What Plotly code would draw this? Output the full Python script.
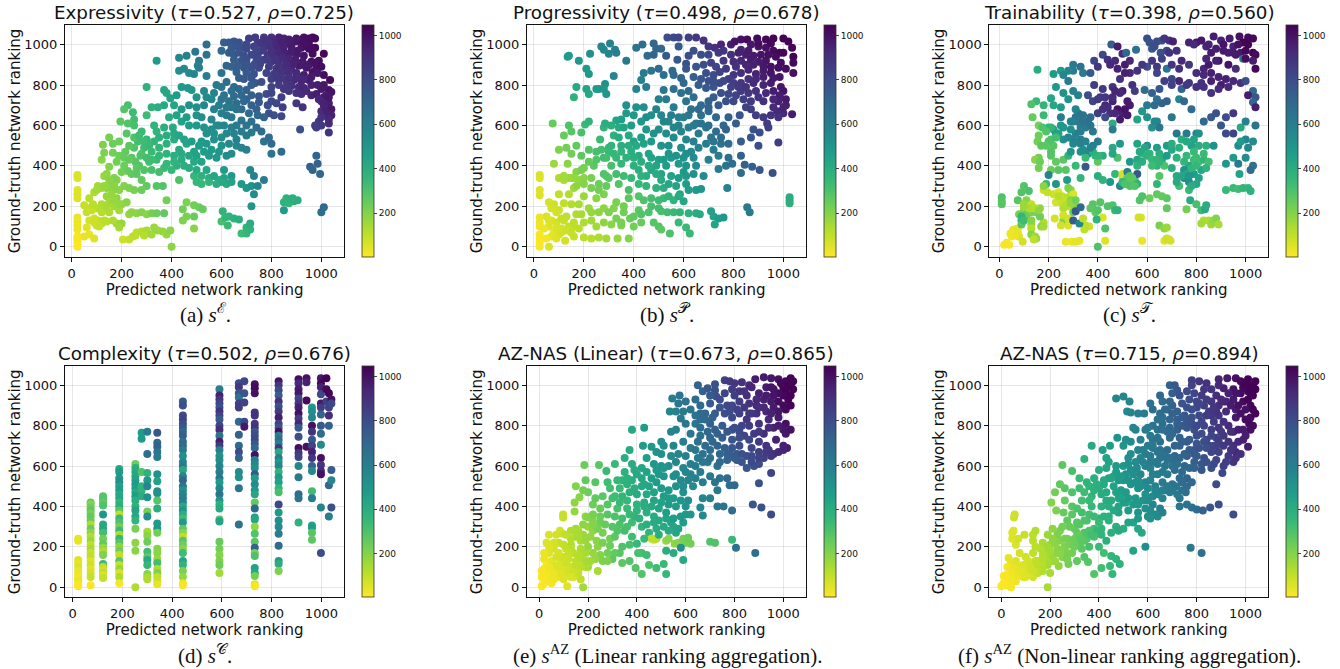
import plotly.graph_objects as go

W, H = 1340, 669

# ---------- (x, y, colour) ----------
a_pts = [
(710,1030,850),(735,1035,860),(770,1035,870),(800,1035,900),(830,1035,950),(850,1030,950),(930,1035,1000),(965,1035,1020),(975,1030,1020),
(610,1010,740),(630,1010,750),(650,1015,770),(670,1010,780),(745,1005,860),(760,1010,880),(780,1020,900),(810,1020,930),(860,1010,960),(885,1015,970),(900,1015,980),(920,1020,1000),(950,1010,1010),
(680,985,790),(700,980,810),(730,990,840),(770,985,870),(795,990,900),(825,985,930),(850,990,950),(880,990,970),(920,985,990),(950,980,1010),(975,985,1020),
(630,960,750),(650,950,750),(670,960,770),(690,945,790),(720,950,810),(745,945,830),(785,950,870),(810,945,900),(840,955,930),(870,955,950),(900,950,970),(930,945,990),(965,955,1010),(1010,955,1030),
(650,925,740),(680,920,770),(700,925,790),(740,920,820),(770,925,850),(800,915,880),(830,910,900),(860,920,930),(895,925,960),(925,915,980),(960,915,1000),(990,920,1010),
(620,895,710),(640,890,720),(690,885,760),(720,885,790),(750,885,810),(790,890,860),(820,880,880),(850,885,910),(880,880,930),(910,895,960),(940,885,980),(980,890,1000),(1000,890,1010),
(660,865,720),(700,860,750),(730,855,780),(780,860,830),(810,855,860),(840,860,890),(870,860,910),(900,860,930),(930,850,960),(965,865,990),
(620,815,680),(670,835,730),(690,830,750),(720,835,770),(735,810,760),(760,815,790),(800,830,850),(830,825,870),(860,820,890),(890,825,920),(920,820,940),(950,825,970),(1010,850,1010),(1035,825,1020),
(600,790,640),(650,790,690),(670,780,700),(700,775,720),(720,800,740),(800,790,830),(830,800,860),(850,780,870),(880,795,900),(910,790,920),(930,785,940),(1000,780,970),(1030,775,990),(1040,765,990),
(610,750,650),(640,770,670),(680,750,700),(750,745,760),(780,755,800),(800,760,820),(840,740,850),(920,755,910),(960,750,950),(980,755,960),(1010,740,970),
(600,730,640),(630,720,650),(660,710,670),(700,730,720),(720,700,720),(750,715,750),(785,700,790),(800,720,810),(820,710,830),(845,690,850),(900,710,880),(925,690,900),(1000,720,940),(1030,710,960),
(680,680,690),(710,660,690),(740,680,730),(790,660,780),(810,650,790),(840,645,810),(1000,670,920),(1020,680,950),(1040,680,980),(1040,650,950),(1010,650,920),(990,620,880),
(1030,565,890),(1030,610,920),(915,580,790),(980,590,850),(1000,600,870),
(340,920,480),(300,790,380),(430,935,560),(460,945,590),(495,965,640),(540,1000,670),(540,950,640),(600,970,690),(510,920,610),(505,895,590),(430,870,530),(450,880,550),(470,860,550),(490,855,560),(510,885,590),(540,845,610),(600,860,650),(440,790,490),(465,785,500),(480,775,500),(500,740,510),(530,770,550),(540,740,550),(570,760,580),(580,800,620),(560,730,560),(370,775,430),(380,760,430),(395,735,440),(420,750,470),(410,700,440),(370,700,420),(345,690,400),(320,690,380),(300,650,330),(225,700,310),(210,680,290),(245,665,330),(250,630,320),(195,620,270),(225,610,290),(250,600,310),(330,600,370),(340,570,370),(370,590,390),(405,590,410),(440,620,450),(460,640,480),(500,650,510),(520,640,530),(560,630,550),(600,660,590),(620,650,610),(640,640,620),(680,625,640),(700,600,640),(720,620,660),(745,650,700),(770,640,720),(720,565,620),(740,590,680),(760,570,680),(770,520,650),(790,540,680),(800,510,690),(800,460,640),(840,470,680),(980,450,710),(955,395,720),(965,380,710),(985,410,720),(995,360,700),
(150,540,220),(125,505,210),(165,510,240),(190,520,240),(120,430,190),(130,465,210),(165,465,230),(190,450,240),(215,470,260),(240,440,280),(150,395,200),(180,420,230),(210,400,240),(225,375,250),(255,420,280),(275,450,300),(265,520,320),(280,570,340),(300,530,350),(250,540,300),(220,560,280),(290,490,330),(320,470,340),(350,490,360),(380,510,380),(410,530,400),(430,480,410),(460,510,430),(490,470,450),(520,520,480),(540,560,520),(570,530,520),(590,600,550),(600,500,510),(620,560,560),(650,560,580),(660,530,590),(680,490,580),(700,480,590),(640,460,540),(620,450,540),(580,440,490),(550,450,470),(520,420,440),(490,420,420),(450,400,390),(420,400,380),(400,380,350),(370,390,340),(340,430,340),(310,420,320),(290,380,290),(270,400,290),(320,380,310),(350,370,320),(280,330,260),(300,300,260),(340,300,280),(365,300,290),(240,360,260),(260,360,270),(180,330,200),(160,310,190),(140,290,180),(140,360,190),(130,350,170),
(430,330,300),(490,350,350),(520,350,380),(550,340,390),(500,320,350),(520,310,350),(550,320,360),(590,330,390),(620,310,420),(640,350,490),(640,320,440),(610,380,480),(680,310,490),(700,290,490),(720,300,510),(715,380,570),(730,350,590),(745,300,570),(770,330,610),(730,260,540),(720,200,500),
(850,220,370),(860,240,380),(875,235,380),(890,225,390),(905,230,400),(870,215,370),(885,240,390),(850,180,470),(1000,170,670),(1010,195,680),
(460,220,210),(490,205,230),(510,195,240),(525,185,250),(445,185,230),(460,150,220),(445,130,210),(490,150,250),(490,90,190),(600,125,310),(605,175,370),(615,145,360),(630,150,370),(650,140,380),(670,135,390),(680,65,330),(700,95,360),(700,65,350),(715,85,370),(715,115,400),(625,105,340),
(380,230,230),(230,160,170),(240,170,180),(260,165,190),(280,170,200),(300,160,190),(320,165,220),(340,165,240),(370,165,260),
(205,35,80),(230,35,90),(245,50,100),(260,70,110),(280,75,120),(290,60,130),(300,80,140),(320,60,150),(330,95,160),(345,80,160),(365,75,170),(380,60,170),(395,80,190),(400,0,190),(290,55,120),(255,55,110),
(23,355,60),(23,340,60),(23,280,50),(23,260,50),(23,240,50),(23,145,30),(23,125,30),(23,105,30),(23,85,25),(23,50,15),(23,30,10),(23,15,5),(23,0,5),(23,40,10),
(50,205,90),(70,240,110),(90,270,130),(105,300,150),(120,290,150),(140,250,170),(165,280,180),(180,240,180),(200,210,180),(220,220,190),(120,210,130),(100,190,120),(80,180,100),(60,170,90),(130,180,130),(150,170,130),(170,200,150),(190,180,150),(105,130,90),(90,140,80),(120,115,100),(140,125,110),(70,130,70),(60,95,50),(70,60,40),(90,40,50),(50,50,35),(100,105,80),(180,115,160),(200,115,170),(190,95,150),(165,130,130),
(790,1010,890),(820,1005,930),(840,1015,950),(870,1025,960),(900,1030,980),(950,1030,1010),(940,1000,1000),(960,985,1010),(905,970,980),(880,965,960),(850,965,950),(825,960,930),(800,970,900),(760,970,860),(740,970,830),(700,1000,810),(660,990,770),(640,980,750),(870,930,940),(845,935,920),(815,930,890),(785,925,860),(755,905,830),(730,900,800),(700,900,770),(665,895,740),(830,890,890),(860,900,920),(890,905,950),(920,900,970),(950,900,980),(975,910,1000),(985,860,980),(960,840,970),(930,830,940),(900,835,920),(870,840,900),(840,835,880),(820,840,870),(960,800,950),(985,800,960),(1010,800,980),(1020,750,970),(1030,740,980),(990,730,940),(1010,700,950),(1025,660,950),(1000,640,900),(1030,630,930),(975,600,860),(860,790,880),(900,760,900),(940,770,930),(870,770,880),
(650,745,680),(690,720,700),(720,750,730),(660,680,660),(640,690,640),(620,690,620),(590,700,610),(570,680,590),(530,700,560),(500,690,530),(470,700,510),(440,680,480),(420,650,450),(390,640,420),(470,600,470),(500,600,490),(530,590,510),(560,580,530),(580,600,550),(610,600,570),(640,590,590),(660,600,610),(680,570,610),(700,550,620),(660,500,560),(630,510,550),(600,540,540),(570,560,520),(540,510,490),(510,500,470),(480,520,460),(450,530,440),(430,550,430),(410,560,420),(380,550,400),(350,540,380),(330,520,360),(310,500,340),(290,520,330),(270,550,330),(280,460,300),(250,490,290),(230,500,270),(210,440,250),(230,430,260),(260,390,270),(300,440,320),(320,430,330),(350,450,350),(380,460,370),(410,450,390),(440,460,410),(470,450,430),(500,450,450),(530,470,470),(560,480,490),(590,470,500),(380,410,350),(410,420,370),(440,430,400),(470,390,400),(500,380,410),(540,380,420),(570,350,430),(610,340,440),(600,320,420),(580,310,400),(100,280,150),(170,300,190),(190,280,190),(210,300,200),(230,290,210),(250,280,220),(280,280,240),(150,220,150),(170,230,170),(190,210,170),(140,200,140),(120,170,120),(90,120,80),(110,100,90),(130,130,110),(70,190,90),(85,210,110),(130,300,170),(160,260,170),(200,370,230),(170,340,210),(150,330,190),
]

b_pts = [
(535,1035,790),(560,1035,810),(580,1035,830),(620,1035,850),(650,1035,880),(680,1020,890),(700,990,880),(725,985,900),(750,1000,930),(790,1000,960),(805,1015,990),(830,1025,1000),(855,1025,1020),(895,1030,1030),(930,1025,1030),(960,1030,1040),(1000,1030,1040),(1020,1015,1040),
(270,990,560),(280,975,560),(305,1005,590),(325,975,590),(300,955,580),(330,960,600),(410,985,650),(435,1000,670),(480,1005,700),(490,980,700),(510,980,700),(580,990,760),(640,970,790),(670,950,800),(700,950,810),(740,960,870),(760,970,880),(790,950,900),(830,975,940),(870,1000,980),(900,990,990),(930,985,1000),(960,970,1020),(985,960,1030),(1035,985,1030),(1040,940,1040),
(135,940,470),(140,945,480),(225,955,530),(180,920,490),(210,880,480),(220,855,490),(370,920,620),(320,845,560),(285,805,520),(250,780,480),(260,780,490),(280,780,500),(290,755,500),(220,755,430),(210,780,440),(170,790,420),(160,740,380),
(455,945,680),(480,950,710),(530,945,750),(575,925,770),(610,905,780),(620,945,800),(650,890,770),(680,900,790),(710,910,840),(730,890,830),(760,920,880),(800,915,910),(830,920,930),(870,925,960),(900,915,970),(930,920,990),(990,910,1010),(1040,910,1020),(1040,860,1000),
(440,860,620),(470,870,640),(500,880,680),(520,850,670),(555,870,700),(560,850,690),(590,835,710),(610,880,760),(640,840,730),(690,860,790),(720,850,800),(745,865,840),(770,880,870),(800,850,880),(830,860,910),(860,875,940),(890,855,950),(920,870,970),(950,860,990),(985,840,990),
(430,825,590),(450,790,600),(520,775,630),(560,780,660),(600,810,700),(620,770,690),(660,800,740),(690,785,750),(720,790,770),(700,820,780),(745,810,810),(780,830,850),(800,810,860),(830,810,880),(860,830,900),(890,830,930),(920,800,940),(950,810,960),(990,790,980),(1000,770,990),
(410,780,570),(500,730,590),(530,730,610),(560,690,600),(590,760,660),(610,720,650),(640,740,680),(670,700,680),(700,720,720),(720,740,740),(750,760,790),(780,755,810),(810,750,840),(830,770,860),(870,720,870),(900,740,890),(930,760,920),(980,720,950),(1010,730,970),(960,690,920),(975,670,920),(1000,660,930),(1035,655,960),(850,690,840),(870,680,850),(890,650,850),(920,640,870),(950,650,890),(980,640,900),(935,610,860),(940,590,850),
(370,700,520),(410,690,520),(400,650,490),(370,660,480),(350,630,460),(330,625,450),(440,690,540),(450,640,540),(490,680,580),(520,620,570),(550,650,600),(580,600,590),(620,650,640),(650,610,640),(670,650,660),(700,670,700),(730,640,700),(760,600,690),(780,640,730),(810,610,740),(825,650,770),(880,580,780),
(75,610,250),(140,600,300),(205,605,340),(220,620,370),(280,590,360),(310,600,390),(285,610,400),(320,550,380),(340,590,410),(120,550,250),(150,570,280),(190,565,310),(265,530,340),(300,490,350),(350,500,400),(380,550,420),(400,520,440),(430,540,470),(450,580,500),(480,560,510),(510,500,510),(540,500,530),(560,540,550),(590,490,540),(610,530,570),(640,520,590),(660,560,610),(690,590,650),(710,540,640),(720,480,610),(750,510,650),(740,450,610),(780,510,680),(780,440,670),(830,450,730),(830,520,740),(870,540,770),(900,500,800),(980,515,860),(905,565,800),
(100,480,210),(130,490,230),(170,500,260),(150,460,230),(220,480,290),(190,450,270),(250,470,310),(280,440,330),(300,470,340),(330,440,350),(370,440,380),(390,470,400),(420,450,420),(460,460,440),(470,440,450),(500,430,460),(550,440,480),(580,410,490),(610,460,530),(640,440,550),(650,400,550),(700,430,590),
(80,410,160),(135,410,190),(170,370,200),(200,390,230),(240,400,270),(280,360,290),(310,400,310),(350,410,350),(400,400,380),(420,380,390),(450,350,400),(510,360,440),(530,400,470),(600,370,490),(610,400,510),(680,350,550),(740,385,620),(770,400,650),(795,410,680),(775,290,580),(830,365,680),(845,405,720),(875,395,740),(905,380,770),(957,365,790),
(100,340,130),(120,330,140),(150,340,160),(180,330,170),(200,340,190),(230,340,220),(260,310,240),(290,300,250),(300,340,280),(340,310,290),(380,280,310),(420,310,350),(450,300,360),(490,290,380),(510,330,410),(520,290,400),(540,310,430),(570,300,440),(610,310,470),(620,280,470),(650,280,490),(670,285,500),(585,260,430),(600,225,430),
(100,260,100),(140,260,120),(160,290,150),(200,250,160),(250,240,190),(280,260,210),(330,220,220),(380,240,270),(420,250,290),(440,230,300),(470,240,320),(500,230,330),(470,200,310),
(60,220,70),(80,210,80),(120,215,100),(150,210,120),(180,210,140),(220,190,160),(280,190,180),(320,190,200),(360,200,230),(360,170,230),(420,180,270),(460,170,300),(100,180,80),(120,130,90),(510,175,310),(535,170,330),(560,170,340),(585,170,360),(620,165,380),(650,165,400),(665,160,410),(710,175,450),(720,150,450),(740,140,470),(760,145,490),(725,110,440),(610,95,340),(625,65,340),(545,65,300),(580,120,340),
(50,150,60),(70,130,60),(90,120,70),(110,90,70),(140,100,90),(160,100,100),(200,120,130),(230,130,150),(250,100,150),(280,120,180),(310,110,190),(350,105,210),(385,140,240),(400,100,230),(430,120,250),(480,120,280),(500,100,290),(510,85,270),
(60,100,50),(80,70,40),(100,60,60),(125,30,70),(160,50,90),(200,45,110),(230,40,120),(260,45,130),(290,40,150),(335,40,170),(380,40,200),(60,0,60),
(23,355,60),(23,340,60),(23,280,50),(23,255,50),(23,145,30),(23,120,30),(23,100,25),(23,60,15),(23,40,10),(23,20,5),(23,0,5),
(1025,245,400),(1025,230,400),(1025,215,390),(855,195,620),(865,170,620),
(820,960,950),(850,950,960),(880,945,970),(910,950,990),(940,950,1000),(970,940,1010),(1000,960,1030),(950,1005,1030),(900,1005,1010),(860,970,970),(810,890,900),(850,900,940),(880,900,950),(920,895,980),(950,890,1000),(980,885,1010),(1010,880,1010),(960,835,980),(920,840,960),(880,810,920),(850,790,890),(820,790,870),(790,790,840),(760,820,820),(720,820,790),(670,830,760),(960,770,960),(985,750,960),(1010,700,960),(1000,690,950),(960,730,940),(920,720,900),(890,770,900),(860,760,880),(840,730,850),(800,720,820),(770,720,790),(740,700,750),(700,690,710),(660,680,690),(630,680,660),(600,640,620),(580,640,600),(540,620,570),(510,650,560),(470,650,530),(430,620,500),(390,600,470),(360,590,440),(340,540,410),(310,500,370),(270,480,320),(250,430,290),(220,420,260),(190,380,220),(160,340,170),(140,340,160),(120,350,150),(200,310,200),(170,300,180),(230,290,220),(260,280,230),(290,350,290),(330,360,320),(360,350,330),(390,340,350),(430,350,380),(470,380,420),(490,400,440),(520,430,470),(540,460,500),(570,450,510),(600,440,520),(630,470,550),(660,490,580),(690,510,610),(720,520,640),(750,540,680),(770,580,720),(730,570,680),(700,600,670),(670,610,650),(640,600,620),(620,590,600),(590,570,570),(560,590,570),(530,560,540),(500,580,530),(470,520,480),(440,510,450),(410,500,420),(380,500,400),(350,470,370),(320,460,350),(290,440,320),(400,440,390),(430,420,400),(460,400,410),(490,360,410),(550,350,450),(580,340,470),(610,350,490),(640,360,520),(70,190,70),(90,170,70),(110,140,90),(130,150,100),(160,120,110),(180,90,110),(90,90,60),(60,130,50),(40,90,30),(70,50,40),(50,40,20),(90,40,50),(110,70,70),(130,80,80),(150,70,90),(170,160,130),(190,160,140),(230,170,170),(260,170,180),(300,170,210),(330,140,220),(350,120,220),(400,150,260),(430,160,290),(500,190,320),(520,240,340),(540,250,370),(560,230,370),(580,250,410),
]

c_pts = [
(600,1030,800),(610,1010,780),(640,1015,800),(660,1020,790),(670,1030,880),(690,1020,900),(705,1015,950),(770,1010,950),(800,1010,980),(820,1020,980),(870,1040,960),(900,1020,950),(910,1000,990),(935,1030,960),(975,1040,1000),(1010,1035,1020),(1030,1030,1030),(990,1010,1040),(1010,1000,1040),(1030,960,1040),(1040,950,1020),(1040,880,1030),(1030,920,960),
(455,1000,740),(480,990,960),(500,955,920),(515,960,700),(555,975,660),(620,980,760),(630,990,800),(655,960,780),(680,970,820),(690,960,900),(720,970,900),(790,1000,920),(840,990,940),(850,1000,950),(880,980,960),(910,970,970),(950,990,950),(980,960,980),
(420,950,820),(385,920,830),(400,890,880),(440,925,900),(450,900,930),(480,880,950),(510,900,960),(530,920,930),(560,870,900),(600,890,800),(620,920,880),(640,890,870),(660,930,840),(680,880,640),(640,860,830),(700,900,880),(730,880,900),(740,920,930),(770,900,880),(800,860,920),(830,880,940),(850,900,980),(890,920,1000),(930,900,990),(960,880,910),(990,930,650),
(300,900,620),(330,890,660),(340,860,620),(300,870,600),(280,870,560),(250,870,470),(220,855,470),(260,850,570),(155,875,400),(370,860,750),(385,800,850),(420,780,870),(460,790,900),(500,770,960),(490,830,900),(540,800,900),(550,770,860),(590,775,680),(620,760,720),(650,780,760),(670,820,850),(700,830,830),(730,820,940),(770,810,880),(820,810,900),(860,820,950),(900,800,960),(930,790,920),(980,810,900),(1000,820,800),(1030,770,680),(1010,750,960),(1040,740,770),(1030,715,700),(1040,690,960),
(280,820,620),(230,790,490),(260,760,510),(300,770,580),(320,750,590),(210,735,430),(220,700,430),(250,690,470),(280,730,510),(310,680,560),(360,750,790),(380,720,830),(410,740,870),(430,700,930),(460,720,950),(480,680,1000),(500,660,950),(530,700,960),(400,660,850),(450,660,910),(520,650,980),(490,630,970),(460,610,400),
(150,720,340),(130,705,300),(180,700,360),(135,640,250),(180,650,340),(250,640,600),(290,620,580),(320,660,590),(340,650,640),(360,620,640),(330,590,600),(380,570,630),(430,640,800),(460,580,600),
(560,630,450),(580,670,500),(600,700,620),(630,700,690),(660,710,720),(680,720,730),(600,640,510),(640,620,560),(700,640,640),(740,780,710),(730,730,570),(750,720,700),(780,680,680),(830,620,700),(860,640,750),(880,660,780),(920,640,800),(950,660,880),(900,600,760),(920,560,810),(950,560,830),
(980,590,420),(1000,620,580),(1040,600,650),(1000,530,560),(1030,520,540),(970,500,540),(980,520,480),(1010,490,560),(1000,440,540),(1030,400,650),(1020,380,690),(950,440,480),(920,410,500),(970,410,620),(975,360,450),(920,280,340),(950,290,340),(970,285,330),(990,290,360),(1010,290,360),(1020,275,380),
(160,600,220),(160,550,240),(155,520,230),(170,500,270),(200,590,360),(220,580,430),(250,600,500),(260,530,520),(200,520,290),(220,500,280),(230,420,260),(210,450,280),(160,440,230),(145,430,190),(165,420,240),(160,390,230),(210,380,250),(200,355,580),(190,310,350),(230,310,510),(240,380,280),(270,380,280),(260,430,270),(280,450,370),(290,470,500),(300,510,560),(330,530,600),(380,500,600),(360,460,550),(310,400,340),(330,470,520),(350,440,340),(390,450,370),(420,450,400),(400,420,270),(350,395,760),(275,330,480),(330,340,360),(400,350,400),(420,330,370),(450,320,500),(470,360,350),(490,300,560),(510,340,330),(530,320,270),(550,330,310),(500,360,60),(500,345,70),(520,370,600),(560,430,430),(580,460,350),(610,460,370),(640,400,370),(660,430,420),(560,360,760),(530,420,490),(480,440,300),(490,510,480),(460,490,420),(460,460,430),
(600,500,530),(620,590,520),(630,620,560),(650,590,640),(640,490,470),(680,500,470),(700,480,420),(720,560,640),(680,450,470),(650,460,400),(760,560,610),(800,560,560),(780,500,450),(810,500,400),(840,500,390),(870,500,520),(740,530,390),(760,450,350),(790,470,340),(810,420,310),(770,400,440),(750,380,510),(720,350,410),(750,340,550),(770,320,540),(790,360,470),(810,340,450),(780,390,360),(830,430,370),(820,380,430),(700,390,400),(670,400,300),(650,350,280),(640,310,360),(730,300,320),(770,280,340),(775,230,410),(800,210,310),(820,180,330),(760,185,230),(835,185,420),(840,205,400),(680,190,260),(610,240,240),(640,260,260),(660,250,260),(680,240,270),(570,230,290),(580,250,300),
(850,130,130),(830,130,130),(860,110,160),(870,130,170),(880,140,200),(890,110,140),(820,115,150),(650,105,220),(670,90,180),(680,95,160),(670,30,50),(680,40,80),(690,35,80),(695,30,70),(575,145,60),(565,145,70),(580,30,30),(400,0,300),(270,25,30),(295,25,30),(310,25,40),(325,30,40),(430,30,50),(420,145,60),(365,100,80),(350,105,100),(345,85,100),(390,170,260),
(380,210,280),(370,190,270),(400,180,290),(410,220,280),(440,200,290),(460,205,300),(470,180,360),(480,180,380),(430,90,300),(395,135,370),
(10,245,300),(10,225,290),(10,210,280),(20,10,10),(30,20,15),(40,10,15),(50,50,20),(55,80,40),(70,85,50),(60,70,30),(80,50,60),(95,25,70),(75,90,30),(100,300,290),(90,270,290),(120,275,300),(75,230,280),(110,230,200),(100,210,160),(130,210,100),(120,190,120),(100,180,170),(80,160,220),(90,130,390),(90,110,280),(110,160,250),(130,170,210),(150,170,220),(165,190,170),(180,120,130),(130,110,150),(130,90,120),(130,60,200),(145,50,150),(150,40,170),(140,35,100),(165,150,240),(170,100,180),(180,100,150),
(220,260,80),(240,270,60),(255,250,90),(280,245,120),(290,280,180),(280,290,210),(300,260,60),(180,280,80),(195,270,90),(230,220,70),(260,190,130),(280,200,100),(300,210,160),(300,170,240),(310,190,200),(225,140,70),(260,130,200),(260,155,70),(280,140,70),(280,105,60),(250,105,70),
(300,130,740),(310,175,760),(330,195,690),(325,115,570),(340,140,100),(180,300,190),
(330,650,650),(310,640,640),(300,620,590),(320,620,610),(350,590,600),(340,620,650),(370,640,680),(370,600,650),(330,570,600),(310,560,590),(300,530,580),(280,540,560),(330,510,590),(350,520,580),(440,690,910),(470,660,930),(460,740,910),(420,680,900),(430,740,880),(400,730,860),(510,680,990),(520,720,970),(490,760,920),(470,770,940),(530,860,930),(510,860,950),(580,900,880),(470,920,920),(950,960,960),(970,1000,1000),(1000,970,1030),(1000,930,1010),(960,950,970),(930,960,960),(880,920,950),(860,960,970),(840,930,940),(830,850,920),(860,860,950),(890,840,950),(920,830,950),(950,820,930),(890,780,920),(860,760,900),(830,790,900),(800,790,900),(760,800,870),(700,800,840),(640,730,660),(810,560,520),(790,530,440),(760,520,420),(730,490,390),(700,510,400),(720,440,380),(750,420,360),(790,430,330),(800,400,350),(760,360,430),(740,350,430),(770,350,500),(720,320,420),(800,310,430),(780,300,400),(830,460,340),(800,440,330),(850,420,320),(840,390,370),(530,350,280),(520,340,270),(540,340,270),(500,320,350),(560,310,380),(530,300,300),(510,310,300),(550,300,290),(560,510,440),(590,490,430),(570,470,420),(600,450,380),(620,430,350),(640,430,360),(560,400,370),(580,420,400),(620,400,330),(650,420,360),(400,450,360),(380,470,390),(340,480,540),(370,490,590),(400,520,600),(290,580,520),(260,590,500),(230,560,480),(210,590,360),(240,560,450),(175,590,300),(190,570,290),(210,530,300),(190,500,270),(230,540,320),(210,470,290),(60,85,40),(45,65,25),(65,55,30),(75,70,35),(120,190,120),(130,190,130),(145,190,120),(100,200,160),(110,150,240),(90,150,360),(100,130,330),(130,130,200),(160,180,180),(250,220,80),(270,230,100),(260,220,90),(240,250,110),(270,205,120),(290,230,190),(290,215,170),(310,230,230),
]

d_columns = [22,72,122,187,252,277,300,340,443,590,668,690,732,828,908,940,962,998,1020,1030,1040]
d_values = [
[240,230,135,120,100,80,65,50,40,30,15,5],
[420,410,395,380,365,350,330,310,290,270,250,230,210,190,170,150,130,110,90,70,50,10],
[450,435,420,405,360,310,290,270,240,215,195,175,160,115,100,85,70,60,45],
[585,570,540,520,500,480,460,440,420,400,380,360,340,320,300,280,260,240,220,200,180,160,130,110,90,70,50,20],
[610,590,570,550,530,510,490,470,450,430,400,380,350,330,290,220,180,0],
[765,735,570,500,480,450],
[770,660,565,530,500,445,375,350,275,255,225,175,150,135,110,65,50,40],
[765,715,695,670,645,560,525,475,465,430,390,315,290,270,190,170,140,120,90,70,50,30,15],
[920,900,850,830,810,790,770,750,720,700,680,650,620,600,580,550,530,500,480,460,440,420,400,380,360,340,320,290,270,250,230,210,190,170,130,110,80,50,20,10],
[980,950,930,910,890,870,850,830,800,780,750,720,700,680,650,630,600,570,540,520,490,460,430,410,390,335,325,225,190,160,130,110,70],
[1010,990,960,940,910,890,820,755,700,670,640,570,545,490,310],
[1020,960,915,820,795],
[1005,985,960,865,850,810,790,770,750,730,710,690,655,630,610,590,560,540,510,480,460,420,390,345,335,300,265,225,195,170,155,95,70,55,15,5],
[1020,1000,975,950,920,895,870,840,810,790,770,750,730,710,690,670,640,620,600,570,545,520,490,470,410,370,330,300,265,205,130,115,80],
[1030,1010,980,960,935,910,890,860,835,810,790,745,690,665,645,600,545,460,440,320],
[1035,1015,925,695],
[890,870,840,800,770,730,700,670,640,600,575,475,440,305,295,270,235],
[1035,1010,990,955,910,890,855,800,760,705,640,605,575,560,395,170],
[1035,980,920],
[960,890,850,800,505,350],
[930,910,580,530,395],
]
d_colours = [
[40,40,50,40,60,30,30,20,20,30,10,5],
[260,200,240,270,220,260,250,130,240,180,120,170,100,140,90,100,60,80,50,70,90,10],
[280,290,260,300,500,420,430,320,230,260,170,130,210,340,100,80,110,50,90],
[430,480,500,520,450,480,420,430,360,390,280,100,340,300,230,340,130,350,280,180,230,100,270,90,170,60,130,15],
[240,390,410,430,450,500,470,420,470,390,380,440,430,370,220,180,190,130],
[480,480,300,360,370,400],
[600,680,380,480,560,520,220,530,150,190,240,330,260,420,350,200,150,130],
[760,700,720,640,620,520,450,530,520,280,390,480,500,230,200,190,170,320,130,210,100,90,40],
[750,790,820,840,800,760,700,730,680,700,620,520,560,620,420,560,700,640,520,580,600,590,430,510,400,330,480,260,190,100,280,240,200,330,430,370,210,170,40,10],
[590,950,880,830,780,900,840,750,830,910,650,960,870,600,520,540,570,600,640,480,560,640,510,380,420,300,440,250,230,200,210,240,150],
[800,880,770,650,840,860,690,720,700,800,720,540,520,640,650],
[830,770,840,820,980],
[1000,1020,1000,890,900,870,900,760,800,820,760,700,1000,600,560,530,750,470,540,500,430,260,700,470,430,170,290,270,720,220,300,450,430,230,50,10],
[990,880,810,740,900,780,860,960,840,780,1000,600,680,590,870,420,610,490,560,370,480,450,350,310,820,480,530,550,600,690,470,400,210],
[1010,920,960,980,830,880,960,1000,860,940,750,790,1010,880,840,560,620,680,650,380],
[1000,950,1020,1000],
[480,530,560,1000,890,760,840,950,880,720,550,330,620,430,470,280,270],
[980,1030,950,820,980,860,710,750,680,550,1000,880,910,1000,570,800],
[1040,1020,850],
[1040,840,910,720,700,600],
[1000,820,740,560,790],
]

e_pts = [
(650,1000,720),(670,970,720),(690,985,760),(720,975,790),(725,945,790),(720,1005,780),(760,1025,850),(780,1020,870),(800,1010,880),(830,1015,900),(860,1000,930),(885,1030,960),(920,1040,970),(950,1035,980),(980,1030,1000),(1010,1020,1030),(1030,1035,1040),(1040,1020,1040),(1020,1000,1040),(1040,980,1040),(1010,970,1040),(1030,950,1040),(1000,950,1030),(980,960,1010),(960,980,1000),(930,990,970),(900,960,950),(870,990,940),(850,950,910),(820,970,880),(790,980,860),(760,960,830),(740,930,800),(700,910,750),(660,900,700),(640,930,680),(600,920,660),(570,910,640),(545,935,610),(575,950,640),(640,850,650),(590,870,620),(560,870,590),(535,870,570),(580,835,620),(600,810,630),(640,810,640),(660,830,670),(680,860,700),(720,860,730),(740,890,770),(790,900,820),(820,920,860),(860,910,900),(890,900,920),(920,930,950),(950,920,970),(980,920,1010),(1000,900,1020),(960,890,970),(930,870,940),(890,860,900),(850,830,880),(820,860,850),(790,840,810),(760,860,790),(700,810,720),(720,780,720),(750,800,750),(790,780,780),(820,770,810),(860,800,860),(900,810,890),(940,830,930),(980,840,970),(1010,810,1000),(1000,780,980),(960,790,950),(920,760,910),(880,760,860),(840,750,830),(790,730,770),(750,740,730),(700,740,700),(660,750,660),(620,760,640),(560,780,590),(540,770,570),(500,720,530),(510,700,530),(460,695,500),(480,670,510),(430,790,470),(380,780,430),(425,700,470),(370,680,410),(350,640,390),(380,610,410),(310,610,340),(245,605,270),(185,605,240),
(500,660,520),(550,700,570),(590,720,600),(620,690,620),(650,720,660),(670,660,650),(700,680,670),(730,700,710),(760,690,730),(790,690,760),(820,700,800),(850,650,790),(870,690,830),(900,720,860),(930,700,890),(960,660,890),(980,670,920),(1015,690,960),(950,650,880),(920,640,850),(880,600,790),(900,610,800),(850,590,770),(810,630,760),(770,630,710),(730,600,660),(690,620,640),(650,640,620),(620,610,600),(590,590,570),(560,620,560),(530,600,530),(500,600,510),(470,610,490),(440,640,460),(420,590,430),(390,580,410),(350,570,380),(340,530,370),(380,530,400),(420,540,430),(450,500,440),(480,520,470),(510,550,500),(550,550,530),(580,530,550),(620,560,580),(660,570,610),(700,550,630),(740,540,660),(950,565,830),(900,515,780),(800,505,700),(780,505,690),(730,480,630),(700,440,590),(670,440,570),(630,500,550),(590,470,510),(550,440,470),(510,450,460),(470,430,440),(430,420,400),(400,460,410),(370,470,390),(340,450,360),(300,440,320),(280,520,330),(275,575,340),(230,520,280),(190,530,260),(200,470,240),(150,500,200),(180,480,230),(165,445,190),(145,420,180),(145,375,170),(190,350,180),(220,410,240),(250,390,250),(280,410,280),(320,390,310),(360,390,340),(400,380,370),(440,370,400),(470,350,410),(520,340,440),(490,390,440),(530,410,480),(620,360,500),(600,360,480),(670,355,550),(660,395,560),(730,400,640),(755,400,650),(790,380,670),(875,410,760),(910,395,780),(950,360,800),
(300,300,280),(250,320,240),(220,330,200),(200,300,170),(150,290,150),(130,280,130),(180,260,160),(220,280,180),(260,270,220),(290,240,230),(330,310,300),(380,320,330),(420,300,360),(450,270,370),(480,290,400),(510,300,420),(540,320,450),(570,290,450),(590,320,470),(560,270,430),
(460,240,100),(470,235,100),(480,240,110),(520,230,170),(530,240,190),(555,215,180),(570,220,200),(590,240,220),(600,220,230),(620,215,230),(610,245,240),(700,225,290),(720,220,300),(790,235,340),(580,195,520),(806,195,660),(885,170,670),
(520,180,400),(550,170,410),(590,135,420),(520,65,350),(510,115,340),(480,95,330),(450,110,300),(420,65,290),(395,95,290),(420,170,320),(440,160,330),(400,215,350),(405,170,310),(370,210,310),(340,200,300),(330,170,280),(300,140,270),(340,120,270),(370,130,290),(380,250,330),(350,280,320),(280,170,230),(250,160,200),(230,140,170),(200,100,150),(260,130,210),(240,80,140),
(190,100,130),(180,0,150),(150,250,130),(130,210,120),(100,210,100),(80,220,90),(30,220,60),(40,260,60),(70,260,70),(85,280,70),(95,265,80),(98,360,90),(98,345,90),(110,190,100),(130,190,110),(170,190,130),(190,170,140),(60,190,70),(40,170,50),(20,140,30),(30,110,15),(50,130,40),(70,150,70),(90,130,70),(120,140,90),(150,130,100),(170,100,110),(130,100,80),(100,100,60),(70,90,50),(50,80,30),(30,70,20),(10,50,10),(30,30,5),(10,5,5),(50,20,20),(80,50,40),(110,60,60),(140,50,70),(160,70,90),(170,40,100),(115,5,50),
(20,20,10),(40,40,20),(60,40,25),(70,60,35),(90,70,50),(100,40,50),(120,80,70),(140,80,80),(60,110,50),(80,110,60),(110,120,80),(140,170,110),(160,160,120),(170,140,120),(190,130,140),(210,130,150),(220,170,170),(240,200,190),(130,240,120),(160,280,140),(170,230,140),(190,230,160),(210,250,170),(235,230,190),(260,220,220),(200,200,170),(280,130,210),(310,170,260),(290,205,240),(310,250,270),(320,280,290),(270,310,250),(240,290,220),(200,345,200),(220,360,220),(250,350,240),(280,360,280),(310,350,300),(340,340,320),(370,360,340),(390,350,360),(410,340,380),(440,310,390),(470,320,410),(490,330,420),(520,370,460),(550,340,470),(580,350,490),(550,300,440),(530,280,420),(490,260,390),(360,300,310),(430,240,340),(310,450,330),(330,490,340),(360,510,380),(390,490,400),(420,500,420),(440,460,420),(470,470,450),(500,490,480),(530,480,490),(560,500,520),(590,500,540),(610,530,570),(640,540,590),(670,520,610),(720,520,650),(770,540,690),(360,540,380),(400,560,420),(440,570,450),(480,580,480),(510,590,500),(540,650,550),(570,660,570),(600,650,590),(640,680,630),(680,700,680),(710,720,700),(740,660,700),(780,660,740),(810,660,760),(830,620,770),(870,650,810),(900,670,850),(940,680,880),(1000,680,940),(1000,700,950),(970,730,950),(1010,760,980),(1030,780,1000),(980,800,960),(940,790,920),(900,770,870),(860,730,820),(820,740,800),(770,770,760),(730,760,720),(690,770,700),(660,790,670),(680,830,690),(710,840,720),(780,870,800),(810,880,840),(840,890,870),(870,860,880),(920,890,930),(950,860,950),(980,870,980),(1010,880,1020),(1030,900,1040),(1020,930,1040),(1000,990,1040),(1030,1000,1040),(990,1010,1030),(950,990,990),(960,950,990),(930,950,960),(890,930,930),(840,970,890),(800,950,850),(770,900,820),(700,950,750),(660,860,690),(620,880,650),
(330,420,340),(360,430,350),(400,410,380),(430,400,400),(460,400,420),(500,420,450),(530,440,470),(560,400,480),(580,430,500),(610,430,530),(600,400,510),(560,560,540),(600,570,570),(640,600,610),(670,620,630),(700,640,660),(740,620,690),(770,660,730),(800,640,740),(830,660,780),(870,620,810),(900,640,840),(930,670,870),(800,790,800),(830,800,830),(860,860,870),(900,890,910),(430,510,430),(460,540,460),(490,560,490),(320,530,350),(290,490,320),(260,450,270),(230,440,260),(220,310,200),(180,310,180),(160,250,140),(110,260,100),(60,220,70),(40,200,50),(20,170,30),(20,90,15),(40,100,25),(10,80,10),(60,60,30),(130,50,60),(150,110,100),(100,150,80),(80,170,70),(120,170,90),
]

f_pts = [
(690,1000,720),(710,1000,750),(720,975,760),(700,960,730),(780,1025,860),(810,1020,880),(840,1010,900),(890,1030,940),(925,1035,970),(960,1035,1000),(980,1020,1020),(1010,1030,1040),(1040,1020,1040),(1040,980,1040),(1010,970,1030),(1030,950,1040),(980,960,1010),(950,980,990),(910,985,950),(880,950,910),(860,980,890),(820,950,860),(790,960,830),(760,970,800),(650,950,700),(660,920,680),(700,900,730),(740,910,770),(760,890,790),(800,890,820),(830,900,850),(860,920,880),(890,900,910),(920,920,940),(950,930,970),(990,920,1020),(1020,900,1030),(1000,880,1000),(960,880,960),(920,870,920),(890,850,890),(850,870,860),(810,850,810),(780,810,780),(750,850,760),(720,870,730),(690,830,700),(650,860,680),(620,880,670),(610,910,660),(585,860,620),(560,860,600),(515,870,550),(530,865,570),(470,935,560),(500,945,570),(525,920,570),
(620,800,650),(640,780,660),(660,810,680),(690,790,700),(720,780,720),(760,790,760),(790,780,790),(830,800,830),(860,780,850),(890,790,880),(930,800,920),(960,840,970),(990,780,970),(1015,810,1020),(950,770,930),(910,750,880),(880,740,840),(840,730,810),(800,750,790),(770,730,740),(730,740,720),(690,740,690),(650,720,670),(620,730,640),(590,780,610),(540,790,560),(550,780,570),(530,720,540),(510,730,530),(475,740,510),(500,700,510),(445,700,470),(370,700,420),(415,680,460),(340,635,380),(250,605,270),(290,575,310),(320,540,340),(440,620,450),(470,600,480),(500,600,490),(430,640,450),
(520,640,530),(560,680,570),(590,660,600),(620,690,620),(650,640,640),(680,680,680),(710,650,700),(730,700,720),(760,650,740),(790,680,770),(830,640,790),(860,670,830),(880,630,830),(910,600,850),(930,650,870),(960,670,920),(1010,695,960),(980,660,910),(950,620,890),(860,590,790),(820,580,770),(790,620,730),(750,600,700),(710,580,670),(670,600,640),(640,560,610),(610,590,590),(570,560,560),(530,580,520),(500,530,500),(470,570,470),(430,590,430),(400,580,400),(380,540,390),(350,520,370),(320,490,330),(290,470,300),(260,490,280),(240,510,260),(220,470,230),(205,420,200),(225,380,210),(260,430,250),(290,400,280),(330,430,320),(370,450,360),(400,490,400),(430,470,420),(460,500,450),(490,480,470),(530,510,510),(560,490,520),(590,520,560),(630,500,590),(660,520,620),(700,510,640),(730,540,680),(760,540,710),(690,470,600),(660,440,570),(630,480,560),(590,460,520),(550,440,490),(510,420,450),(480,440,430),(450,430,410),(410,400,380),(370,400,350),(330,370,320),(290,360,270),(255,370,250),(270,330,260),(310,320,280),(350,330,310),(400,340,360),(440,350,400),(480,370,440),(520,380,480),(560,370,510),(600,350,540),(630,360,550),(650,390,590),(620,410,570),(575,270,420),(560,290,430),(540,320,450),(500,290,400),(470,300,390),(440,330,380),(410,290,360),(380,290,320),(340,270,290),(310,270,250),(270,240,230),(240,280,210),(210,290,180),(190,260,160),(170,220,140),(200,210,170),(230,190,190),(260,200,210),(290,230,230),(320,210,250),(350,240,300),(400,200,340),(420,170,320),(430,230,390),(390,280,350),(330,190,270),(290,170,230),(250,150,200),(210,130,150),(170,160,120),(130,170,100),(100,150,80),(75,170,70),(60,210,60),(45,240,50),(45,270,60),(70,240,70),(50,280,55),(95,260,90),(130,260,110),(140,280,120),(130,230,110),(55,360,80),(52,345,80),
(590,200,530),(540,180,440),(450,155,360),(470,140,370),(485,115,380),(445,105,340),(410,95,320),(380,65,290),(455,65,350),(355,125,280),(340,150,290),(310,130,260),(275,115,230),(235,105,180),(190,110,150),(140,100,90),(100,90,60),(70,100,50),(40,120,40),(30,145,40),(25,100,20),(60,60,30),(90,50,50),(130,50,70),(150,70,90),(190,0,140),(30,30,10),(10,20,5),(20,10,5),(0,5,3),(40,0,10),(10,55,5),(60,30,25),(15,40,5),(35,50,15),(170,80,120),(200,70,140),
(715,500,640),(740,520,680),(730,440,640),(760,410,650),(755,470,670),(730,400,640),(780,395,670),(800,385,690),(825,380,720),(855,395,760),(890,410,790),(950,360,800),(775,195,630),(820,170,660),(880,510,800),(905,565,820),(670,480,620),(640,350,550),(610,340,520),(660,370,580),
(70,60,35),(90,70,50),(110,70,60),(120,90,70),(150,100,100),(170,110,120),(190,140,140),(210,160,160),(230,170,180),(250,180,200),(270,170,220),(120,120,80),(140,130,100),(160,130,110),(180,170,130),(200,180,150),(220,220,180),(240,230,200),(260,240,220),(280,210,220),(300,240,240),(320,250,260),(340,230,280),(360,280,300),(380,250,310),(300,290,260),(320,310,280),(340,330,300),(360,360,320),(380,350,340),(400,320,340),(420,350,380),(440,400,400),(460,380,420),(480,400,440),(500,420,460),(520,440,480),(540,410,480),(560,410,490),(580,430,510),(600,430,530),(620,450,550),(640,460,570),(660,480,590),(680,500,610),(700,480,620),(720,460,620),(740,480,660),(760,500,680),(780,520,700),
(340,470,330),(360,500,370),(380,480,380),(420,510,420),(440,540,450),(460,550,470),(480,530,480),(510,560,510),(540,560,530),(560,530,530),(590,600,590),(610,620,610),(630,620,620),(650,680,660),(670,650,660),(690,640,670),(710,620,690),(730,640,700),(750,660,720),(770,680,750),(790,660,750),(810,690,780),(830,720,800),(850,700,810),(870,700,830),(890,720,860),(910,700,870),(930,720,890),(950,700,900),(970,720,930),(990,730,950),(1000,750,960),(970,780,960),(1020,780,1000),(1030,800,1010),(1020,840,1010),(1000,830,1010),(980,860,1000),(1040,860,1040),(1030,880,1040),(1010,930,1040),(970,900,1000),(940,900,960),(910,920,940),(880,870,900),(860,850,880),(840,850,860),(820,820,830),(800,800,810),(780,840,790),(760,820,770),(740,800,750),(720,810,730),(700,760,700),(680,770,690),(660,780,670),(640,740,650),(620,700,630),(600,700,620),(580,680,590),(570,640,570),(550,620,550),(530,660,530),(610,750,620),(570,730,590),(600,790,610),(680,880,700),(700,860,720),(740,840,750),(780,880,790),(810,910,830),(840,930,860),(870,890,880),(900,930,920),(930,960,950),(960,960,990),(990,990,1030),(1020,990,1040),(1000,1010,1040),(1030,1000,1040),(1020,960,1040),(890,1000,930),(780,1000,840),(730,950,780),(690,920,710),(770,930,800),(800,920,830),(830,980,870),(670,880,690),(640,830,650),(660,840,660),(720,830,730),(870,820,860),(910,820,900),(940,770,910),(900,770,870),(860,750,830),(820,760,800),(880,700,840),(840,690,790),(800,710,770),(760,720,740),
(410,460,410),(430,430,410),(470,470,450),(490,450,450),(510,470,480),(520,530,510),(550,520,520),(570,500,530),(600,490,550),(610,530,570),(620,560,590),(640,610,620),(660,570,620),(680,560,620),(700,600,650),(720,610,670),(740,570,690),(770,590,700),(790,590,720),(800,650,750),(820,610,760),(840,620,780),(870,610,810),(890,670,840),(920,620,850),(940,680,890),(960,640,900),(680,630,650),(710,700,710),(740,720,730),(660,660,650),(640,670,640),(610,650,610),(580,620,580),(555,590,550),(520,610,520),(490,550,480),(450,540,440),(420,530,420),(390,510,390),(360,430,340),(310,390,300),(280,300,250),(250,300,230),(230,260,210),(210,240,180),(190,200,150),(160,190,120),(140,200,110),(110,130,70),(90,110,60),(60,130,50),(50,90,35),(40,70,25),(20,60,10),(40,40,15),(80,80,45),(100,50,50),(130,80,80),(150,130,100),(170,140,120),(220,130,160),(240,170,190),(270,140,220),(300,200,240),(330,230,270),(360,200,310),(370,260,320),(410,260,360),(450,270,390),(480,280,410),(520,320,450),(560,340,490),(590,390,530),(610,380,540),
]

titles = ["Expressivity (<i>τ</i>=0.527, <i>ρ</i>=0.725)", "Progressivity (<i>τ</i>=0.498, <i>ρ</i>=0.678)",
          "Trainability (<i>τ</i>=0.398, <i>ρ</i>=0.560)", "Complexity (<i>τ</i>=0.502, <i>ρ</i>=0.676)",
          "AZ-NAS (Linear) (<i>τ</i>=0.673, <i>ρ</i>=0.865)", "AZ-NAS (<i>τ</i>=0.715, <i>ρ</i>=0.894)"]
captions = ["(a) <i>s</i><sup>ℰ</sup>.", "(b) <i>s</i><sup>𝒫</sup>.", "(c) <i>s</i><sup>𝒯</sup>.", "(d) <i>s</i><sup>𝒞</sup>.",
            "(e) <i>s</i><sup>AZ</sup> (Linear ranking aggregation).", "(f) <i>s</i><sup>AZ</sup> (Non-linear ranking aggregation)."]
colorbar_ticks = [200, 400, 600, 800, 1000]
axis_ticks = [0, 200, 400, 600, 800, 1000]
x_label = "Predicted network ranking"
y_label = "Ground-truth network ranking"

d_pts = [(x, y, c) for x, ys, cs in zip(d_columns, d_values, d_colours) for y, c in zip(ys, cs)]
panels = [a_pts, b_pts, c_pts, d_pts, e_pts, f_pts]

# pixel geometry of each panel: left, right, top, bottom, colourbar left, x range
geom = [
    (65, 344.3, 25, 257, 361.7, (-27, 1092)),
    (527, 806.3, 25, 257, 824, (-28, 1092)),
    (989.3, 1268.3, 25, 257, 1286, (-40.6, 1092)),
    (65, 344.3, 366.3, 597.3, 361.7, (-31, 1092)),
    (527, 806.3, 366.3, 597.3, 824, (-50, 1094)),
    (989.3, 1268.3, 366.3, 597.3, 1286, (-49, 1093)),
]
y_ranges = [(-51, 1097)] * 3 + [(-50, 1094)] * 3
cap_x = [205, 667, 1129, 205, 667, 1129]
cap_y = [314, 314, 314, 654, 654, 654]
title_y = [12, 12, 12, 353, 353, 353]
title_x = [204, 666, 1129, 204, 666, 1129]

FONT = "DejaVu Sans"
fig = go.Figure()
anns = []
for i, (pts, g) in enumerate(zip(panels, geom)):
    l, r, t, b, cb, xr = g
    n = "" if i == 0 else str(i + 1)
    xs, ys, cs = zip(*pts)
    fig.add_trace(go.Scatter(
        x=xs, y=ys, mode="markers", xaxis="x" + n, yaxis="y" + n, showlegend=False,
        marker=dict(size=8, color=cs, colorscale="Viridis", reversescale=True, cmin=2, cmax=1047,
                    line=dict(width=0),
                    colorbar=dict(x=cb / W, xanchor="left", xpad=0, ypad=0, thickness=12, thicknessmode="pixels",
                                  y=1 - b / H, yanchor="bottom", len=(b - t) / H, lenmode="fraction",
                                  tickvals=colorbar_ticks, ticks="outside", ticklen=3, tickwidth=0.8,
                                  tickfont=dict(family=FONT, size=9, color="#111"),
                                  outlinewidth=0.8, outlinecolor="#333")),
    ))
    common = dict(showgrid=True, gridcolor="rgba(176,176,176,0.3)", gridwidth=1, zeroline=False, showline=True,
                  mirror=True, linecolor="#111", linewidth=1, ticks="outside", ticklen=4, tickwidth=1,
                  tickcolor="#111", tickvals=axis_ticks, tickfont=dict(family=FONT, size=13, color="#111"))
    fig.update_layout({
        "xaxis" + n: dict(domain=[l / W, r / W], range=list(xr), anchor="y" + n,
                          title=dict(text=x_label, font=dict(family=FONT, size=15, color="#111"), standoff=0), **common),
        "yaxis" + n: dict(domain=[1 - b / H, 1 - t / H], range=list(y_ranges[i]), anchor="x" + n,
                          title=dict(text=y_label, font=dict(family=FONT, size=15, color="#111"), standoff=0), **common),
    })
    anns.append(dict(text=titles[i], x=title_x[i] / W, y=1 - title_y[i] / H, xref="paper", yref="paper", showarrow=False,
                     xanchor="center", yanchor="middle", font=dict(family=FONT, size=18.3, color="#111")))
    anns.append(dict(text=captions[i], x=cap_x[i] / W, y=1 - cap_y[i] / H, xref="paper", yref="paper", showarrow=False,
                     xanchor="center", yanchor="middle", font=dict(family="Liberation Serif", size=21, color="#111")))

fig.update_layout(width=W, height=H, margin=dict(l=0, r=0, t=0, b=0), paper_bgcolor="white", plot_bgcolor="white",
                  annotations=anns, showlegend=False)
fig.write_html("out.html", config=dict(displayModeBar=False),
               post_script="document.body.style.margin='0';document.body.style.overflow='hidden';")
